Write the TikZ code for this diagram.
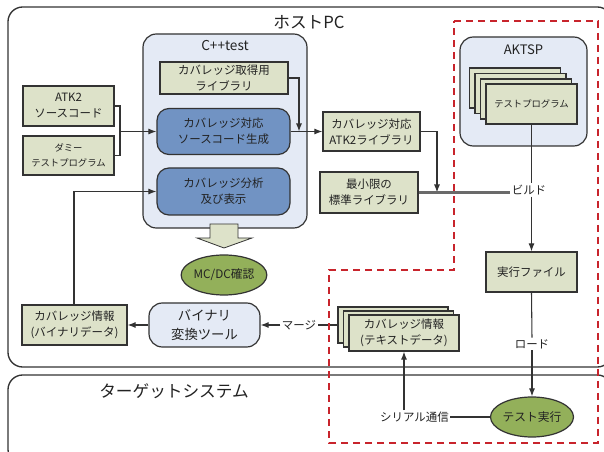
\documentclass[tikz,border=0pt]{standalone}
\usepackage{fontspec}
\setmainfont{Noto Sans CJK JP}
\usetikzlibrary{arrows.meta,shapes.geometric}
\definecolor{linecol}{HTML}{333333}
\definecolor{boxfill}{HTML}{DDE2C9}
\definecolor{contfill}{HTML}{E4EAF5}
\definecolor{bluefill}{HTML}{7193C3}
\definecolor{greenfill}{HTML}{93B05A}
\definecolor{reddashcol}{HTML}{C8242C}
\definecolor{graylinecol}{HTML}{6A6A6A}
\definecolor{txtcol}{HTML}{222222}
\begin{document}
\begin{tikzpicture}[x=0.75pt,y=-0.75pt,
  >={Latex[length=6pt,width=4.5pt]},
  every node/.style={text=txtcol},
  line/.style={draw=linecol, line width=0.8pt},
  grayline/.style={draw=graylinecol, line width=1.6pt},
  box/.style={draw=linecol, line width=0.9pt, fill=boxfill, align=center, inner sep=1pt, font=\fontsize{8.6}{12}\selectfont},
  smalltxt/.style={font=\fontsize{7}{11}\selectfont},
  bluebox/.style={box, fill=bluefill, rounded corners=9pt},
  wh/.style 2 args={minimum width=#1*0.75pt, minimum height=#2*0.75pt},
  cont/.style={draw=linecol, line width=0.9pt, fill=contfill, rounded corners=10pt, inner sep=0pt},
  lbl/.style={font=\fontsize{8.6}{12}\selectfont, inner sep=1pt},
  bigtitle/.style={font=\fontsize{12.5}{15}\selectfont, inner sep=1pt},
  ell/.style={ellipse, draw=linecol, line width=0.9pt, fill=greenfill, inner sep=0pt, font=\fontsize{8.8}{12}\selectfont},
  reddash/.style={draw=reddashcol, line width=1.6pt, dash pattern=on 5.5pt off 3.5pt}
]
\useasboundingbox (0,0) rectangle (604,452);
\fill[white] (0,0) rectangle (604,452);
% outer areas
\draw[draw=linecol, line width=1pt, rounded corners=11pt] (8,7) rectangle (612,367);
\draw[draw=linecol, line width=1pt, rounded corners=11pt] (8,375) rectangle (612,464);
\node[bigtitle] (hosttitle) at (309,22) {ホストPC};
\node[bigtitle] (tgttitle) at (174,391) {ターゲットシステム};

% C++test container
\node[cont, wh={164}{194}] (cpp) at (225,131) {};
\node[font=\fontsize{10.2}{12}\selectfont, inner sep=1pt] (cpptitle) at (225,46) {C++test};
\node[box, wh={128}{32}] (lib) at (224,78) {カバレッジ取得用\\ライブラリ};
\node[bluebox, wh={133}{46}] (gen) at (223.5,131.5) {カバレッジ対応\\ソースコード生成};
\node[bluebox, wh={133}{47}] (ana) at (223.5,191.5) {カバレッジ分析\\及び表示};

% inputs
\node[box, wh={91}{40}] (atk) at (68.5,106) {ATK2\\ソースコード};
\node[box, smalltxt, wh={91}{39}] (dummy) at (68.5,155.5) {ダミー\\テストプログラム};

% libraries
\node[box, wh={97}{39}] (atklib) at (371.5,131.5) {カバレッジ対応\\ATK2ライブラリ};
\node[box, wh={98}{41}] (stdlib) at (369,192.5) {最小限の\\標準ライブラリ};

% AKTSP container
\node[cont, wh={127}{109}] (aktsp) at (523.5,91.5) {};
\node[font=\fontsize{9.8}{12}\selectfont, inner sep=1pt] (aktsptitle) at (523.5,50) {AKTSP};
\node[box, wh={91}{40}] (tp1) at (515,88) {};
\node[box, wh={91}{40}] (tp2) at (520.5,93.5) {};
\node[box, wh={91}{40}] (tp3) at (526,99) {};
\node[box, smalltxt, wh={91}{40}] (tp4) at (531.5,104) {テストプログラム};

\node[lbl] (build) at (529,190) {ビルド};
\node[box, wh={91}{40}] (exe) at (531.5,272) {実行ファイル};
\node[lbl, fill=white] (load) at (532,344) {ロード};
\node[ell, wh={83}{40}] (run) at (532,417) {テスト実行};
\node[lbl] (serial) at (414.5,417) {シリアル通信};

% coverage text data
\node[box, wh={110}{36}] (tx1) at (393,325) {};
\node[box, wh={110}{36}] (tx2) at (398.5,329) {};
\node[box, wh={110}{36}] (tx3) at (404,333) {カバレッジ情報\\(テキストデータ)};
\node[lbl] (merge) at (299,325) {マージ};

% binary tool and data
\node[box, fill=contfill, rounded corners=10pt, font=\fontsize{10}{14}\selectfont, wh={111}{44}] (bin) at (204.5,325) {バイナリ\\変換ツール};
\node[box, wh={105}{40}] (covbin) at (74.5,325) {カバレッジ情報\\(バイナリデータ)};

% MC/DC
\draw[draw=linecol, line width=0.6pt, fill=boxfill] (210,224) -- (238,224) -- (238,238) -- (252,238) -- (224,248) -- (197,238) -- (210,238) -- cycle;
\node[ell, wh={84}{40}] (mcdc) at (224,275) {MC/DC確認};

% connectors
\coordinate (brk) at (120,131.5);
\draw[line] (atk.east) -| (brk) |- (dummy.east);
\draw[line,->] (brk) -- (gen.west);
\coordinate (lj) at (299,131.5);
\draw[line,->] (lib.east) -| (lj);
\draw[line,->] (gen.east) -- (atklib.west);
\coordinate (sj) at (437,192.5);
\draw[line,->] (atklib.east) -| (sj);
\draw[grayline] (stdlib.east) -- (stdlib.east -| build.west);
\draw[line] (tp4.south) -- (tp4.south |- build.north);
\draw[line,->] (tp4.south |- build.south) -- (exe.north);
\draw[line] (exe.south) -- (load.north);
\draw[line,->] (load.south) -- (run.north);
\draw[line] (serial.east) -- (run.west);
\draw[line,->] (serial.north -| tx3.south) -- (tx3.south);
\draw[line] (tx1.west) -- (merge.east);
\draw[line,->] (merge.west) -- (bin.east);
\draw[line,->] (bin.west) -- (covbin.east);
\coordinate (aj) at (74,191.5);
\draw[line,->] (covbin.north -| aj) -- (aj) -- (ana.west);

% red dashed region
\draw[reddash] (454,21) -- (598,21) -- (598,443) -- (329,443) -- (329,270) -- (454,270) -- cycle;
\end{tikzpicture}
\end{document}
